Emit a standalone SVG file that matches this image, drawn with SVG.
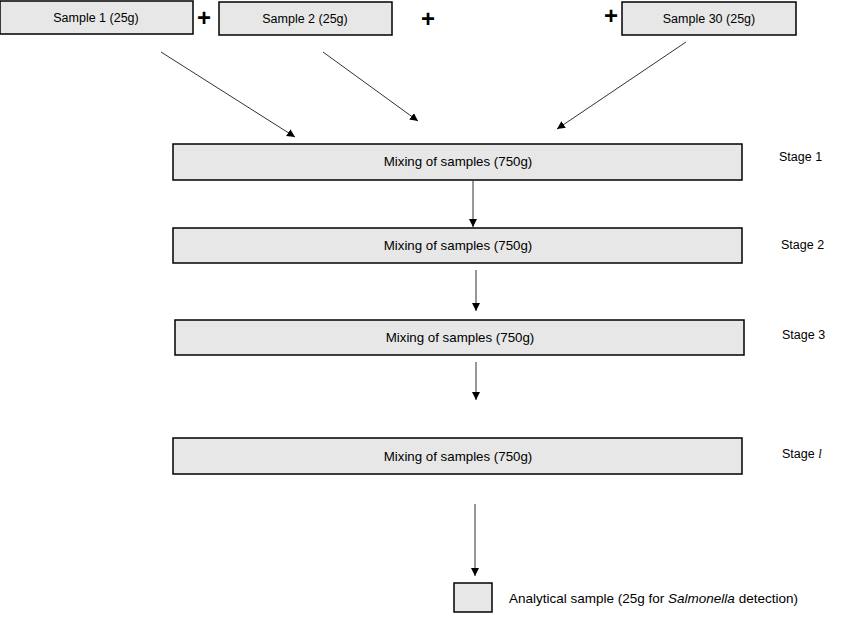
<svg xmlns="http://www.w3.org/2000/svg" width="854" height="617" viewBox="0 0 854 617">
<style>
.box{fill:#e7e7e7;stroke:#000;stroke-width:1.5}
.t{font-family:"Liberation Sans","Open Sans",sans-serif;font-size:12.5px;fill:#000}
.m{font-size:13.3px}
.c{text-anchor:middle}
.plus{font-family:"Liberation Sans",sans-serif;font-size:24px;font-weight:bold;fill:#000;text-anchor:middle}
.ln{stroke:#333;stroke-width:1;fill:none;marker-end:url(#ah)}
</style>
<defs>
<marker id="ah" viewBox="0 0 10 10" refX="10" refY="5" markerWidth="8" markerHeight="8" markerUnits="userSpaceOnUse" orient="auto">
<path d="M0,0 L10,5 L0,10 z" fill="#000"/>
</marker>
</defs>
<rect width="854" height="617" fill="#fff"/>
<g id="sample1"><rect class="box" x="0" y="1" width="193" height="33"/><text class="t c" x="96" y="22">Sample 1 (25g)</text></g>
<g id="sample2"><rect class="box" x="219" y="2" width="173" height="33"/><text class="t c" x="305" y="23">Sample 2 (25g)</text></g>
<g id="sample30"><rect class="box" x="622" y="2" width="174" height="33"/><text class="t c" x="709" y="23">Sample 30 (25g)</text></g>
<g id="plus1"><text class="plus" x="204" y="26">+</text></g>
<g id="plus2"><text class="plus" x="428" y="27">+</text></g>
<g id="plus3"><text class="plus" x="611" y="24">+</text></g>
<g id="stage1"><rect class="box" x="173" y="144" width="569" height="36"/><text class="t m c" x="458" y="166">Mixing of samples (750g)</text><text class="t" x="779" y="161">Stage 1</text></g>
<g id="stage2"><rect class="box" x="173" y="228" width="569" height="35"/><text class="t m c" x="458" y="250">Mixing of samples (750g)</text><text class="t" x="781" y="249">Stage 2</text></g>
<g id="stage3"><rect class="box" x="175" y="320" width="569" height="35"/><text class="t m c" x="460" y="342">Mixing of samples (750g)</text><text class="t" x="782" y="339">Stage 3</text></g>
<g id="stagel"><rect class="box" x="173" y="438" width="569" height="36"/><text class="t m c" x="458" y="461">Mixing of samples (750g)</text><text class="t" x="782" y="458">Stage <tspan font-family="Liberation Serif,serif" font-style="italic">l</tspan></text></g>
<g id="analytical"><rect class="box" x="454" y="583" width="38" height="29"/><text class="t" x="509" y="603" style="font-size:13.5px">Analytical sample (25g for <tspan font-style="italic">Salmonella</tspan> detection)</text></g>
<g id="connectors">
<line class="ln" x1="161" y1="52" x2="295" y2="137"/>
<line class="ln" x1="323" y1="52" x2="418" y2="121"/>
<line class="ln" x1="686" y1="42" x2="557" y2="129"/>
<line class="ln" x1="473" y1="181" x2="473" y2="227"/>
<line class="ln" x1="476" y1="270" x2="476" y2="311"/>
<line class="ln" x1="476" y1="362" x2="476" y2="400"/>
<line class="ln" x1="475" y1="504" x2="475" y2="576"/>
</g>
</svg>
